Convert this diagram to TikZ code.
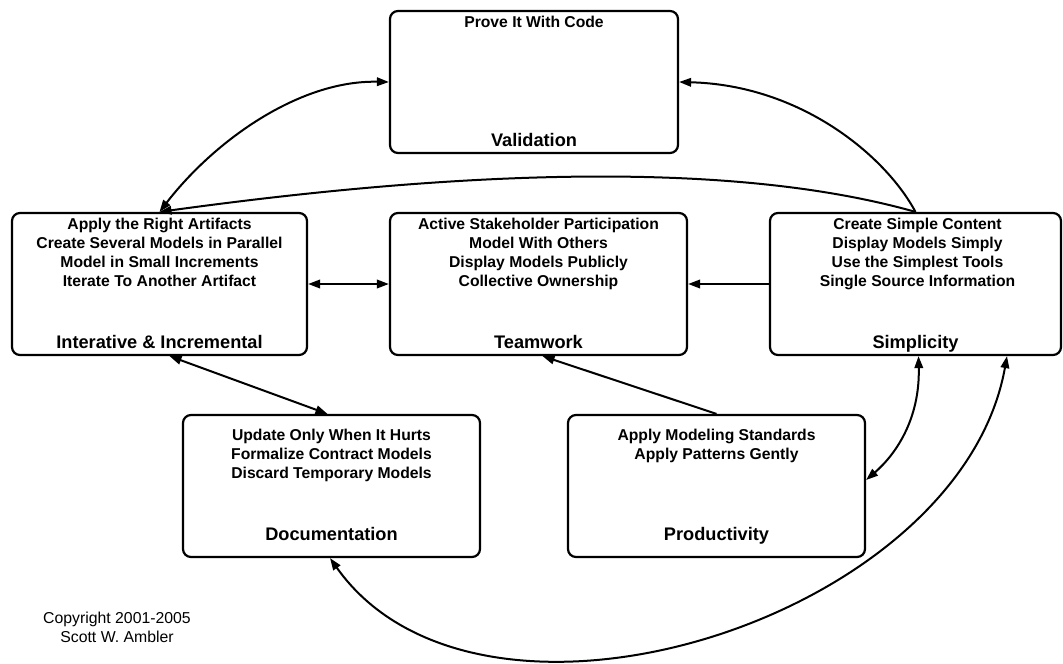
\documentclass[tikz,border=0pt]{standalone}
\usepackage{fontspec}
\setmainfont{Liberation Sans}
\usetikzlibrary{arrows.meta,calc}
\begin{document}
\begin{tikzpicture}[x=1pt,y=-1pt,
  >={Triangle[length=12pt,width=8.5pt]},
  box/.style={draw, line width=2.2pt, rounded corners=8pt, minimum height=142pt, inner sep=0pt},
  body/.style={font=\bfseries\fontsize{15.7}{19}\selectfont, align=center, inner sep=0pt, anchor=north},
  lab/.style={font=\bfseries\fontsize{18.2}{22}\selectfont, inner sep=0pt, anchor=base},
  conn/.style={line width=2pt}]
\useasboundingbox (0,0) rectangle (1063,664);

% boxes
\node[box, minimum width=288pt] (val)  at (534,82) {};
\node[box, minimum width=295pt] (iter) at (159.5,284) {};
\node[box, minimum width=297pt] (team) at (538.5,284) {};
\node[box, minimum width=291pt] (simp) at (915.5,284) {};
\node[box, minimum width=297pt] (doc)  at (331.5,486) {};
\node[box, minimum width=297pt] (prod) at (716.5,486) {};

% texts
\node[body] (valt) at ($(val.north)+(0,6.5)$) {Prove It With Code};
\node[lab]  (vall) at ($(val.south)+(0,-8)$) {Validation};

\node[body] (itert) at ($(iter.north)+(0,6.5)$) {Apply the Right Artifacts\\Create Several Models in Parallel\\Model in Small Increments\\Iterate To Another Artifact};
\node[lab]  (iterl) at ($(iter.south)+(0,-8)$) {Interative \& Incremental};

\node[body] (teamt) at ($(team.north)+(0,6.5)$) {Active Stakeholder Participation\\Model With Others\\Display Models Publicly\\Collective Ownership};
\node[lab]  (teaml) at ($(team.south)+(0,-8)$) {Teamwork};

\node[body] (simpt) at ($(simp.north)+(2,6.5)$) {Create Simple Content\\Display Models Simply\\Use the Simplest Tools\\Single Source Information};
\node[lab]  (simpl) at ($(simp.south)+(0,-8)$) {Simplicity};

\node[body] (doct) at ($(doc.north)+(0,15)$) {Update Only When It Hurts\\Formalize Contract Models\\Discard Temporary Models};
\node[lab]  (docl) at ($(doc.south)+(0,-18)$) {Documentation};

\node[body] (prodt) at ($(prod.north)+(0,15)$) {Apply Modeling Standards\\Apply Patterns Gently};
\node[lab]  (prodl) at ($(prod.south)+(0,-18)$) {Productivity};

\node[font=\fontsize{15.8}{19}\selectfont, align=center, inner sep=0pt, anchor=north] (copy) at (117,612) {Copyright 2001-2005\\Scott W. Ambler};

% connectors
\draw[conn,<->] (val.west) .. controls (300,80) and (215,140) .. (iter.north);
\draw[conn,->] (simp.north) .. controls (885,155) and (800,85) .. (val.east);
\draw[conn,->] (simp.north) .. controls (750,165) and (500,165) .. (iter.north);
\draw[conn,<->] (iter.east) -- (team.west);
\draw[conn,->] (simp.west) -- (team.east);
\draw[conn,->] (prod.north) -- ($(team.south)+(4,0)$);
\draw[conn,<->] ($(iter.south)+(10,0)$) -- ($(doc.north)+(-4,0)$);
\draw[conn,<->] ($(simp.south)+(3,0)$) .. controls (920,420) and (895,455) .. ($(prod.east)+(0,-6)$);
\draw[conn,<->] ($(simp.south)+(91.5,0)$) .. controls (960,620) and (480,770) .. ($(doc.south)+(-1.5,0)$);
\end{tikzpicture}
\end{document}
